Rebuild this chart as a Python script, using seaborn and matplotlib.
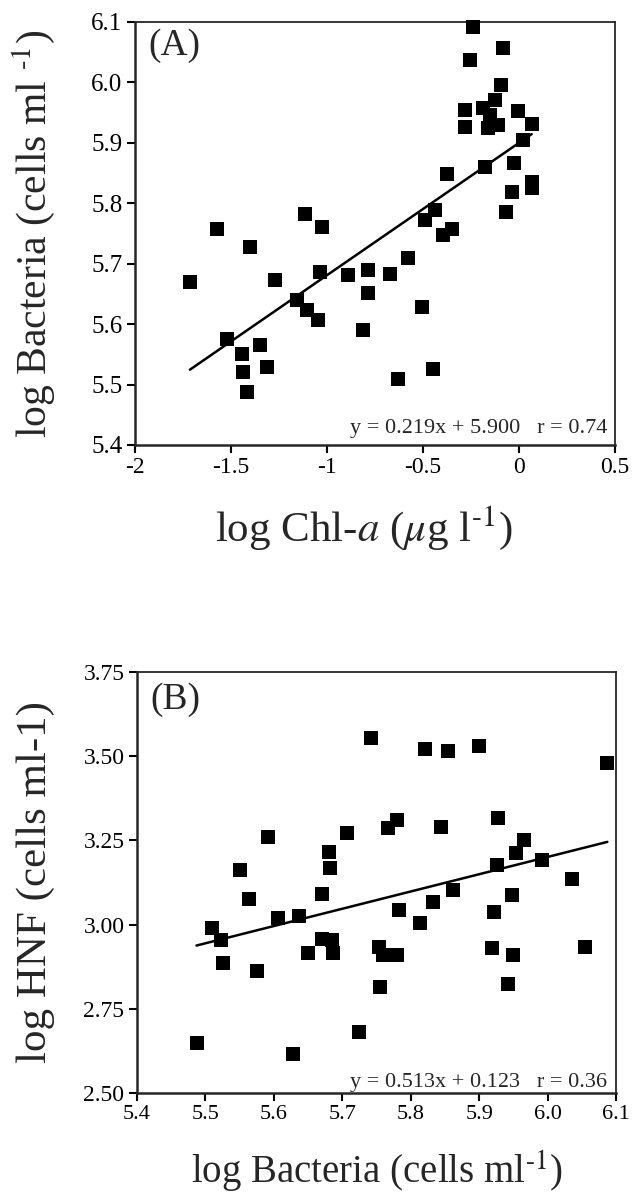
import numpy as np
import pandas as pd
import matplotlib
matplotlib.use("Agg")
import matplotlib.pyplot as plt
import seaborn as sns

# panel A: log Chl-a vs log Bacteria
chl_a = [-0.238, -0.255, -0.082, -0.094, -0.281, -0.281, -0.186, -0.125, -0.151, -0.160,
         -0.108, -0.004, 0.066, 0.023, -0.024, -0.177, -0.377, 0.066, 0.066, -0.038,
         -0.068, -0.437, -0.490, -0.350, -0.394, -1.115, -1.028, -1.575, -1.401, -1.714,
         -1.271, -1.036, -0.889, -0.785, -0.672, -0.576, -0.785, -1.158, -1.106, -1.045,
         -0.507, -0.811, -1.522, -1.349, -1.444, -1.314, -1.436, -1.418, -0.629, -0.446]
bact_a = [6.092, 6.037, 6.057, 5.996, 5.954, 5.927, 5.957, 5.971, 5.946, 5.924,
          5.930, 5.952, 5.931, 5.905, 5.866, 5.860, 5.849, 5.836, 5.825, 5.819,
          5.785, 5.789, 5.772, 5.758, 5.747, 5.783, 5.761, 5.757, 5.727, 5.670,
          5.673, 5.687, 5.681, 5.689, 5.683, 5.709, 5.652, 5.640, 5.624, 5.607,
          5.629, 5.590, 5.576, 5.565, 5.551, 5.529, 5.521, 5.488, 5.510, 5.525]
slope_a, icpt_a = 0.219, 5.900

# panel B: log Bacteria vs log HNF
bact_b = [5.742, 5.821, 5.855, 5.899, 6.087, 5.591, 5.707, 5.780, 5.767, 5.844,
          5.927, 5.966, 5.954, 5.680, 5.992, 5.926, 5.551, 5.682, 6.036, 5.948,
          5.862, 5.833, 5.670, 5.564, 5.783, 5.922, 5.814, 5.606, 5.637, 5.510,
          5.523, 5.670, 5.685, 5.650, 5.687, 5.754, 5.760, 5.780, 5.918, 5.949,
          6.055, 5.526, 5.575, 5.755, 5.942, 5.724, 5.487, 5.628]
hnf_b = [3.553, 3.521, 3.516, 3.531, 3.479, 3.259, 3.271, 3.311, 3.286, 3.289,
         3.316, 3.252, 3.214, 3.217, 3.192, 3.177, 3.162, 3.167, 3.136, 3.088,
         3.103, 3.068, 3.091, 3.075, 3.044, 3.036, 3.006, 3.019, 3.026, 2.991,
         2.955, 2.957, 2.955, 2.917, 2.917, 2.933, 2.910, 2.910, 2.930, 2.910,
         2.933, 2.887, 2.861, 2.816, 2.824, 2.681, 2.648, 2.617]
slope_b, icpt_b = 0.513, 0.123

xticks_a = [-2, -1.5, -1, -0.5, 0, 0.5]
xticklabels_a = ["-2", "-1.5", "-1", "-0.5", "0", "0.5"]
yticks_a = [5.4, 5.5, 5.6, 5.7, 5.8, 5.9, 6.0, 6.1]
xticks_b = [5.4, 5.5, 5.6, 5.7, 5.8, 5.9, 6.0, 6.1]
yticks_b = [2.50, 2.75, 3.00, 3.25, 3.50, 3.75]

sns.set_style("ticks")
plt.rcParams["font.family"] = ["Liberation Serif", "DejaVu Serif"]
plt.rcParams["mathtext.fontset"] = "stix"
plt.rcParams["axes.unicode_minus"] = False

fig = plt.figure(figsize=(6.34, 12.02), dpi=100)
ax1 = fig.add_axes([0.213, 0.6298, 0.757, 0.3519])
ax2 = fig.add_axes([0.216, 0.0907, 0.756, 0.3502])


def draw_panel(ax, x, y, slope, icpt):
    df = pd.DataFrame({"x": x, "y": y})
    sns.scatterplot(data=df, x="x", y="y", ax=ax, marker="s", s=95,
                    color="black", edgecolor="black", linewidth=0, zorder=3,
                    clip_on=False)
    xs = np.array([min(x), max(x)])
    line = pd.DataFrame({"x": xs, "y": slope * xs + icpt})
    sns.lineplot(data=line, x="x", y="y", ax=ax, color="black", linewidth=1.8)
    for side in ["left", "bottom"]:
        ax.spines[side].set_linewidth(1.8)
    for side in ["top", "right"]:
        ax.spines[side].set_visible(True)
        ax.spines[side].set_linewidth(1.3)
    ax.tick_params(direction="out", length=6, width=1.5, colors="black", pad=3)


# ---- panel A ----
draw_panel(ax1, chl_a, bact_a, slope_a, icpt_a)
ax1.set_xlim(-2, 0.5)
ax1.set_ylim(5.4, 6.1)
ax1.set_xticks(xticks_a)
ax1.set_xticklabels(xticklabels_a)
ax1.set_yticks(yticks_a)
ax1.set_yticklabels([f"{v:.1f}" for v in yticks_a])
ax1.tick_params(axis="x", labelsize=17)
ax1.tick_params(axis="y", labelsize=18)
ax1.set_xlabel(r"log Chl-$\mathit{a}$ ($\mathit{\mu}$g l$^{\text{-1}}$)", fontsize=31)
ax1.set_ylabel(r"log Bacteria (cells ml $^{\text{-1}}$)", fontsize=30)
ax1.xaxis.set_label_coords(0.477, -0.138)
ax1.yaxis.set_label_coords(-0.163, 0.5)
ax1.text(0.027, 0.985, "(A)", transform=ax1.transAxes, fontsize=27,
         ha="left", va="top")
ax1.text(0.985, 0.028, "y = 0.219x + 5.900   r = 0.74", transform=ax1.transAxes,
         fontsize=16, ha="right", va="baseline")

# ---- panel B ----
draw_panel(ax2, bact_b, hnf_b, slope_b, icpt_b)
ax2.set_xlim(5.4, 6.1)
ax2.set_ylim(2.5, 3.75)
ax2.set_xticks(xticks_b)
ax2.set_xticklabels([f"{v:.1f}" for v in xticks_b])
ax2.set_yticks(yticks_b)
ax2.set_yticklabels([f"{v:.2f}" for v in yticks_b])
ax2.tick_params(axis="x", labelsize=16)
ax2.tick_params(axis="y", labelsize=17)
ax2.set_xlabel(r"log Bacteria (cells ml$^{\text{-1}}$)", fontsize=28)
ax2.set_ylabel("log HNF (cells ml-1)", fontsize=31)
ax2.xaxis.set_label_coords(0.5, -0.133)
ax2.yaxis.set_label_coords(-0.172, 0.5)
ax2.text(0.027, 0.975, "(B)", transform=ax2.transAxes, fontsize=27,
         ha="left", va="top")
ax2.text(0.981, 0.014, "y = 0.513x + 0.123   r = 0.36", transform=ax2.transAxes,
         fontsize=16, ha="right", va="baseline")

fig.savefig("out.png", dpi=100)
